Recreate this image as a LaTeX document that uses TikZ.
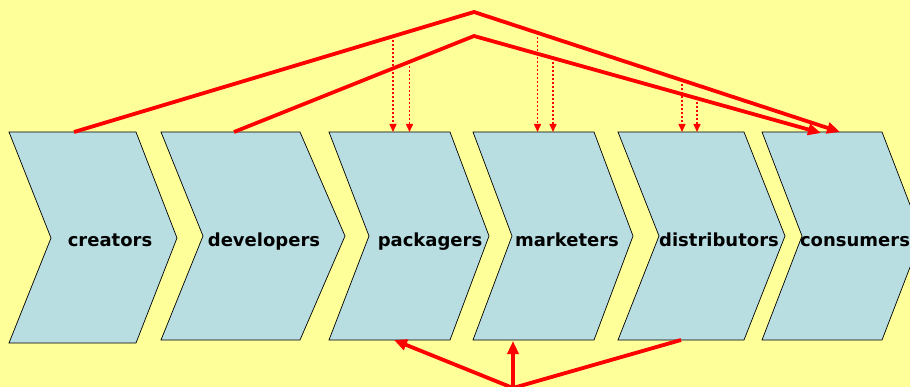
\documentclass[tikz,border=0pt]{standalone}
\usepackage{fontspec}
\setmainfont{DejaVu Sans}
\usetikzlibrary{arrows.meta}
\definecolor{bgyellow}{RGB}{255,255,153}
\definecolor{chevfill}{RGB}{184,222,226}
\tikzset{
  chev/.style={draw=black, line width=0.7pt, fill=chevfill, line join=miter},
  lab/.style={anchor=base, font=\fontsize{18}{20}\selectfont\bfseries, inner sep=0pt},
  bigarrow/.style={draw=red, line width=3.8pt, line join=miter, -{Triangle[length=13pt,width=11pt]}},
  bigline/.style={draw=red, line width=3.8pt, line join=miter},
  dotarrow/.style={draw=red, line width=1.5pt, dash pattern=on 2pt off 2pt, -{Triangle[length=8pt,width=7pt]}}
}
\begin{document}
\begin{tikzpicture}[x=1pt,y=-1pt]
\useasboundingbox (0,0) rectangle (910,387);
\fill[bgyellow] (0,0) rectangle (910,387);
\clip (0,0) rectangle (910,387);
% chevrons
\path[chev] (9,132) -- (136,132) -- (177,238) -- (136,343) -- (9,343) -- (51,238) -- cycle;
\path[chev] (161,132) -- (300,132) -- (345,236) -- (300,340) -- (161,340) -- (203,236) -- cycle;
\path[chev] (329,132) -- (450,132) -- (489,236) -- (450,340) -- (329,340) -- (369,236) -- cycle;
\path[chev] (473,132) -- (594,132) -- (633,236) -- (594,340) -- (473,340) -- (512,236) -- cycle;
\path[chev] (618,132) -- (744,132) -- (785,236) -- (744,340) -- (618,340) -- (659,236) -- cycle;
\path[chev] (762,132) -- (882,132) -- (922,236) -- (882,340) -- (762,340) -- (802,236) -- cycle;
% labels
\node[lab] (creators) at (110,247) {creators};
\node[lab] (developers) at (264,247) {developers};
\node[lab] (packagers) at (430,247) {packagers};
\node[lab] (marketers) at (567,247) {marketers};
\node[lab] (distributors) at (719,247) {distributors};
\node[lab] (consumers) at (855,247) {consumers};
% connection points
\coordinate (crtop) at (74,132);
\coordinate (devtop) at (234,132);
\coordinate (peakA) at (474,12);
\coordinate (peakB) at (474,36);
\coordinate (conA) at (840,132);
\coordinate (conB) at (821,133);
\coordinate (src) at (513,388);
\coordinate (packbot) at (394,340);
\coordinate (markbot) at (513,341);
\coordinate (distbot) at (681,340);
% dotted sources on lines and targets
\coordinate (d1a) at (393,36.3);   \coordinate (t1a) at (393,132);
\coordinate (d1b) at (409.5,61.8); \coordinate (t1b) at (409.5,132);
\coordinate (d2a) at (537.5,32.9); \coordinate (t2a) at (537.5,132);
\coordinate (d2b) at (553,58.1);   \coordinate (t2b) at (553,132);
\coordinate (d3a) at (682,80.4);   \coordinate (t3a) at (682,132);
\coordinate (d3b) at (697,98.3);   \coordinate (t3b) at (697,132);
% dotted arrows
\draw[dotarrow] (d1a) -- (t1a);
\draw[dotarrow] (d1b) -- (t1b);
\draw[dotarrow] (d2a) -- (t2a);
\draw[dotarrow] (d2b) -- (t2b);
\draw[dotarrow] (d3a) -- (t3a);
\draw[dotarrow] (d3b) -- (t3b);
% big arrows
\draw[bigarrow] (crtop) -- (peakA) -- (conA);
\draw[bigarrow] (devtop) -- (peakB) -- (conB);
\draw[bigline] (distbot) -- (src);
\draw[bigarrow] (src) -- (packbot);
\draw[bigarrow] (src) -- (markbot);
\end{tikzpicture}
\end{document}
